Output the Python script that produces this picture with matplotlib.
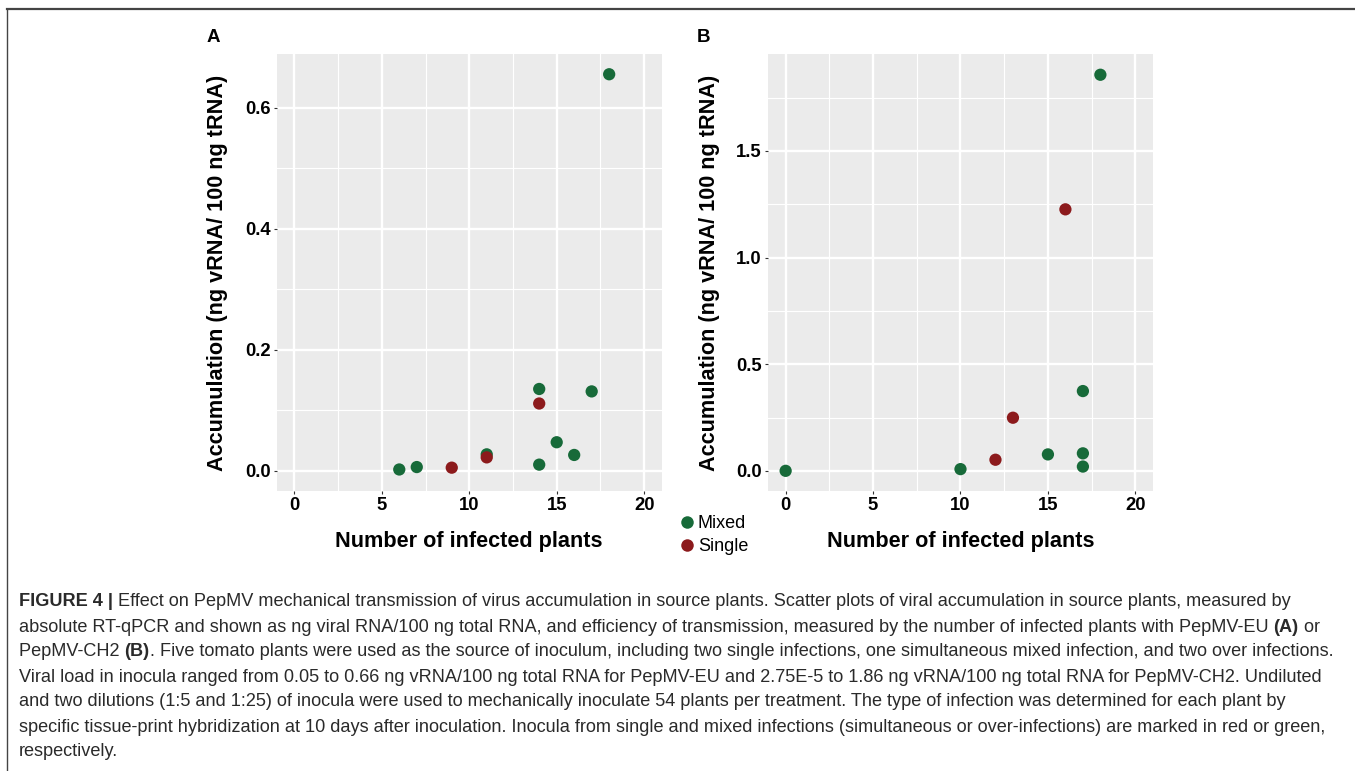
import matplotlib
matplotlib.use("Agg")
import matplotlib.pyplot as plt
from matplotlib.lines import Line2D
from matplotlib import font_manager

# Panel A: PepMV-EU
a_x = [6, 7, 9, 11, 11, 14, 14, 14, 15, 16, 17, 18]
a_y = [0.002, 0.006, 0.005, 0.027, 0.022, 0.135, 0.111, 0.010, 0.047, 0.026, 0.131, 0.655]
a_type = ["Mixed", "Mixed", "Single", "Mixed", "Single", "Mixed", "Single",
          "Mixed", "Mixed", "Mixed", "Mixed", "Mixed"]

# Panel B: PepMV-CH2
b_x = [0, 10, 12, 13, 15, 16, 17, 17, 17, 18]
b_y = [0.0, 0.008, 0.052, 0.249, 0.077, 1.226, 0.374, 0.082, 0.020, 1.857]
b_type = ["Mixed", "Mixed", "Single", "Single", "Mixed", "Single", "Mixed",
          "Mixed", "Mixed", "Mixed"]

x_ticks = [0, 5, 10, 15, 20]
a_yticks = [0.0, 0.2, 0.4, 0.6]
b_yticks = [0.0, 0.5, 1.0, 1.5]

COLORS = {"Mixed": "#176a39", "Single": "#8c1a1c"}
XLABEL = "Number of infected plants"
YLABEL = "Accumulation (ng vRNA/ 100 ng tRNA)"

CAPTION = [
    [("FIGURE 4 | ", "bold"), ("Effect on PepMV mechanical transmission of virus accumulation in source plants. "
                                "Scatter plots of viral accumulation in source plants, measured by", "normal")],
    [("absolute RT-qPCR and shown as ng viral RNA/100 ng total RNA, and efficiency of transmission, "
      "measured by the number of infected plants with PepMV-EU ", "normal"), ("(A)", "bold"), (" or", "normal")],
    [("PepMV-CH2 ", "normal"), ("(B)", "bold"), (". Five tomato plants were used as the source of inoculum, "
                                                "including two single infections, one simultaneous mixed infection, "
                                                "and two over infections.", "normal")],
    [("Viral load in inocula ranged from 0.05 to 0.66 ng vRNA/100 ng total RNA for PepMV-EU and 2.75E-5 to "
      "1.86 ng vRNA/100 ng total RNA for PepMV-CH2. Undiluted", "normal")],
    [("and two dilutions (1:5 and 1:25) of inocula were used to mechanically inoculate 54 plants per treatment. "
      "The type of infection was determined for each plant by", "normal")],
    [("specific tissue-print hybridization at 10 days after inoculation. Inocula from single and mixed infections "
      "(simultaneous or over-infections) are marked in red or green,", "normal")],
    [("respectively.", "normal")],
]


def pick_font(names):
    for n in names:
        try:
            font_manager.findfont(n, fallback_to_default=False)
            return n
        except Exception:
            pass
    return "DejaVu Sans"


SANS = pick_font(["Liberation Sans", "Arial"])
plt.rcParams["font.family"] = SANS


def draw_panel(ax, xs, ys, types, yticks, ymin, ymax, minor_y):
    ax.set_facecolor("#ebebeb")
    for s in ax.spines.values():
        s.set_visible(False)
    ax.set_xlim(-1, 21)
    ax.set_ylim(ymin, ymax)
    ax.set_xticks(x_ticks)
    ax.set_yticks(yticks)
    ax.set_yticklabels([f"{v:.1f}" for v in yticks])
    ax.set_xticks([2.5, 7.5, 12.5, 17.5], minor=True)
    ax.set_yticks(minor_y, minor=True)
    ax.grid(True, which="major", color="white", lw=1.7)
    ax.grid(True, which="minor", color="white", lw=0.8)
    ax.set_axisbelow(True)
    ax.tick_params(which="major", length=2.5, width=0.8, color="#333333", pad=2,
                   labelsize=13.3, labelcolor="black")
    ax.tick_params(which="minor", length=0)
    for lab in ax.get_xticklabels() + ax.get_yticklabels():
        lab.set_fontweight("bold")
    for kind in ["Mixed", "Single"]:
        px = [x for x, t in zip(xs, types) if t == kind]
        py = [y for y, t in zip(ys, types) if t == kind]
        ax.scatter(px, py, s=78, color=COLORS[kind], edgecolor="none", zorder=3)
    ax.set_xlabel(XLABEL, fontsize=15.6, fontweight="bold", labelpad=12)
    ax.set_ylabel(YLABEL, fontsize=15.6, fontweight="bold", labelpad=12)


fig = plt.figure(figsize=(13.55, 7.71), dpi=100)

ax_a = fig.add_axes([0.2043, 0.3636, 0.2840, 0.5660])
draw_panel(ax_a, a_x, a_y, a_type, a_yticks, -0.033, 0.688, [0.1, 0.3, 0.5])
ax_b = fig.add_axes([0.5669, 0.3636, 0.2839, 0.5660])
draw_panel(ax_b, b_x, b_y, b_type, b_yticks, -0.093, 1.953, [0.25, 0.75, 1.25, 1.75])

fig.text(213 / 1355, 1 - 37 / 771, "A", fontsize=13.5, fontweight="bold", ha="center", va="center")
fig.text(704 / 1355, 1 - 37 / 771, "B", fontsize=13.5, fontweight="bold", ha="center", va="center")

# legend
handles = [Line2D([], [], marker="o", ls="", markersize=9, color=COLORS[k], markeredgewidth=0)
           for k in ["Mixed", "Single"]]
fig.legend(handles, ["Mixed", "Single"], loc="center left", bbox_to_anchor=(660 / 1355, 1 - 535 / 771),
           frameon=False, handletextpad=0.0, labelspacing=0.35, handlelength=1.2,
           prop={"size": 13})

# frame lines around the figure
fig.add_artist(Line2D([7 / 1355, 1], [1 - 8.5 / 771, 1 - 8.5 / 771], color="#444444", lw=1.6,
                      transform=fig.transFigure))
fig.add_artist(Line2D([7 / 1355, 7 / 1355], [0, 1 - 8.5 / 771], color="#444444", lw=1.0,
                      transform=fig.transFigure))

# caption, pieces chained so bold and normal runs sit side by side
CAP_SIZE = 13.1
for i, parts in enumerate(CAPTION):
    y = 1 - (602 + 25 * i) / 771
    prev = None
    for txt, w in parts:
        if prev is None:
            prev = fig.text(19 / 1355, y, txt, fontsize=CAP_SIZE, fontweight=w,
                            color="#2a2a2a", ha="left", va="center")
        else:
            prev = ax_a.annotate(txt, xy=(1, 0), xycoords=prev, fontsize=CAP_SIZE, fontweight=w,
                                 color="#2a2a2a", ha="left", va="bottom", annotation_clip=False)

fig.savefig("out.png", dpi=100)
